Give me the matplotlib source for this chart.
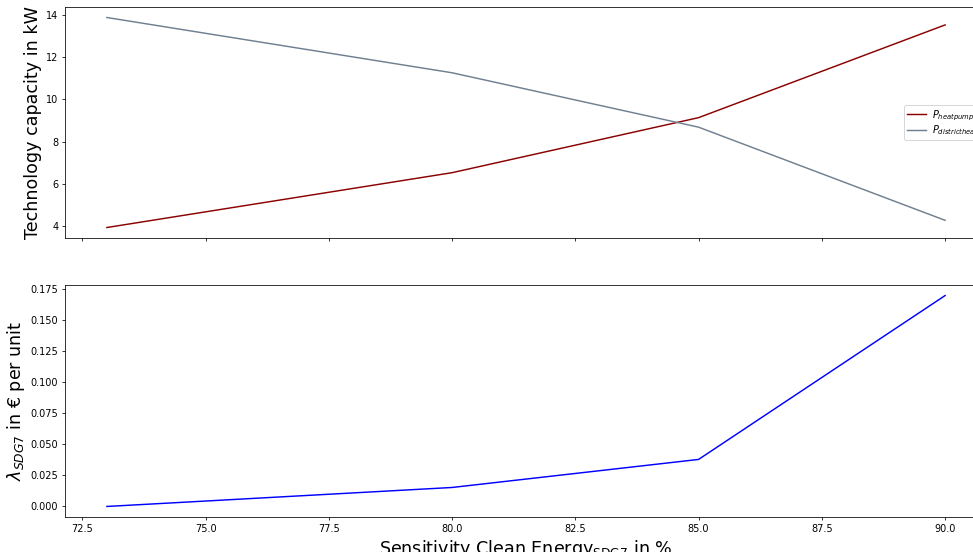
import matplotlib
matplotlib.use("Agg")
import matplotlib.pyplot as plt

sdg7 = [73, 80, 85, 90]
p_heatpump = [3.94, 6.53, 9.13, 13.51]
p_districtheat = [13.86, 11.25, 8.68, 4.28]
lambda_sdg7 = [0.0, 0.0153, 0.0379, 0.170]

DPI = 70
fig = plt.figure(figsize=(973 / DPI, 552 / DPI), dpi=DPI)
ax1 = fig.add_axes([0.0668, 0.5688, 0.9476, 0.4185])
ax2 = fig.add_axes([0.0668, 0.0634, 0.9476, 0.4203], sharex=ax1)

ax1.plot(sdg7, p_heatpump, color="#8b0000", label=r"$P_{heatpump}$")
ax1.plot(sdg7, p_districtheat, color="slategray", label=r"$P_{districtheat}$")
ax1.set_ylabel("Technology capacity in kW", fontsize=18)
ax1.legend(loc="center right", labelspacing=0.05, borderpad=0.3,
           handletextpad=0.6)
plt.setp(ax1.get_xticklabels(), visible=False)

ax2.plot(sdg7, lambda_sdg7, color="blue")
ax2.set_ylabel(r"$\lambda_{SDG7}$ in € per unit", fontsize=18)
ax2.set_xlabel(r"Sensitivity Clean Energy$_{\mathrm{SDG7}}$ in %", fontsize=18)

fig.savefig("out.png", dpi=DPI)
